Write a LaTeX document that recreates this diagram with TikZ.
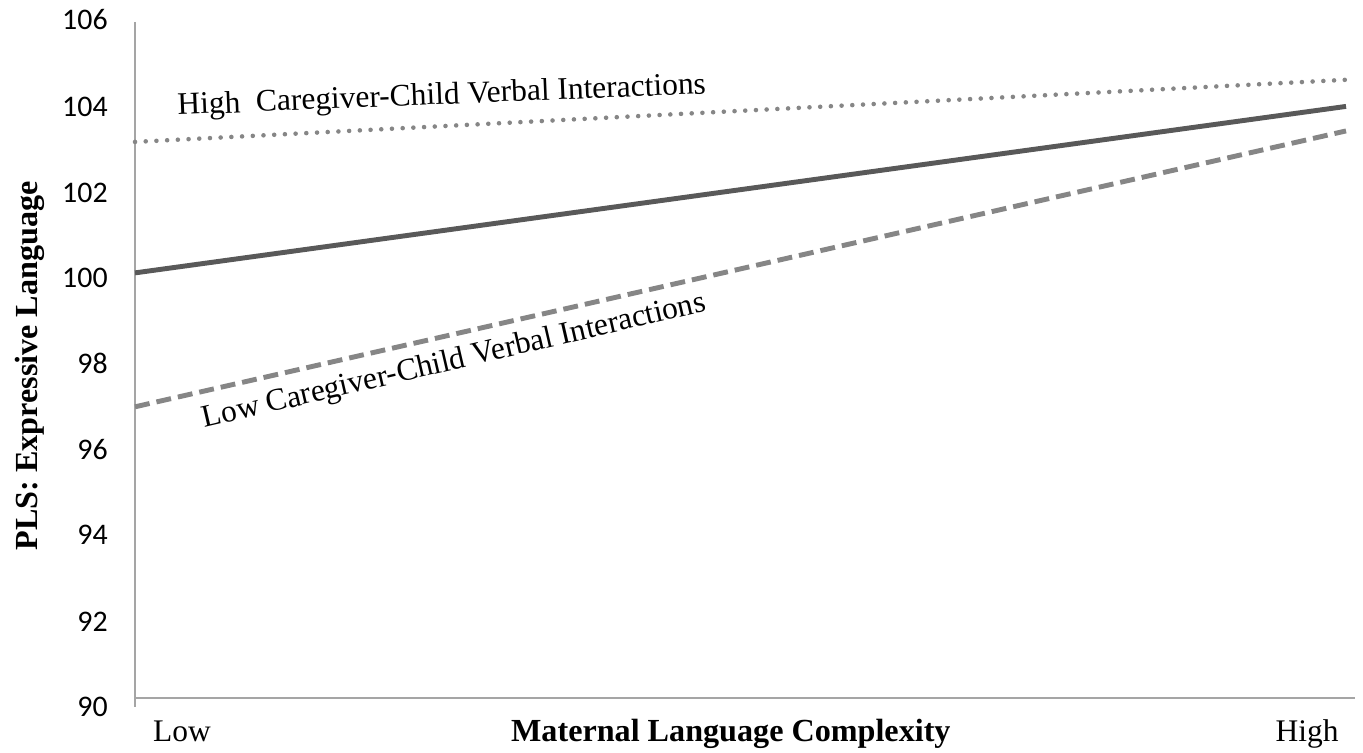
\documentclass[tikz,border=0pt]{standalone}
\usepackage{fontspec}
\setmainfont{Liberation Serif}
\newfontfamily\tickfont{Carlito}
\definecolor{cAxis}{RGB}{165,165,165}
\definecolor{cMid}{RGB}{89,89,89}
\definecolor{cLow}{RGB}{134,134,134}
\definecolor{cHigh}{RGB}{134,134,134}

\begin{document}
\begin{tikzpicture}[x=24.22cm,y=0.845cm,
  ticklab/.style={anchor=east,inner sep=0pt,font=\tickfont\fontsize{17}{20}\selectfont},
  catlab/.style={anchor=base,inner sep=0pt,font=\fontsize{17.9}{21}\selectfont},
  axtitle/.style={inner sep=0pt,font=\bfseries\fontsize{18.3}{21}\selectfont}]
\useasboundingbox (-0.1115,88.70) rectangle (1.0140,106.52);
% axes
\draw[cAxis,line width=0.85pt] (0,106) -- (0,89.79);
\draw[cAxis,line width=0.85pt] (0,90) -- (1.0074,90);
% y tick labels
\node[ticklab] (t106) at (-0.0223,106.05) {106};
\node[ticklab] (t104) at (-0.0223,103.99) {104};
\node[ticklab] (t102) at (-0.0223,101.95) {102};
\node[ticklab] (t100) at (-0.0223,99.94) {100};
\node[ticklab] (t98) at (-0.0223,97.91) {98};
\node[ticklab] (t96) at (-0.0223,95.87) {96};
\node[ticklab] (t94) at (-0.0223,93.86) {94};
\node[ticklab] (t92) at (-0.0223,91.80) {92};
\node[ticklab] (t90) at (-0.0223,89.79) {90};
% x labels
\node[catlab] (xlow) at (0.0388,88.96) {Low};
\node[catlab] (xhigh) at (0.9678,88.96) {High};
\node[axtitle,anchor=base] (xtitle) at (0.492,88.96) {Maternal Language Complexity};
\node[axtitle,rotate=90] (ytitle) at (-0.0867,97.86) {PLS: Expressive Language};
% simple slopes
\coordinate (hiL) at (0,103.16);
\coordinate (hiR) at (1,104.63);
\coordinate (midL) at (0,100.06);
\coordinate (midR) at (1,104.0);
\coordinate (loL) at (0,96.89);
\coordinate (loR) at (1,103.42);
\draw[cHigh,line width=2.6pt,line cap=round,dash pattern=on 0pt off 6.1pt] (hiL) -- (hiR);
\draw[cMid,line width=2.8pt] (midL) -- (midR);
\draw[cLow,line width=2.8pt,dash pattern=on 8.5pt off 4pt] (loL) -- (loR);
\node[catlab,rotate=2.3] (hilab) at (0.2535,104.05) {High\ \ Caregiver-Child Verbal Interactions};
\node[catlab,rotate=13.1] (lolab) at (0.2651,97.78) {Low Caregiver-Child Verbal Interactions};
\end{tikzpicture}
\end{document}
